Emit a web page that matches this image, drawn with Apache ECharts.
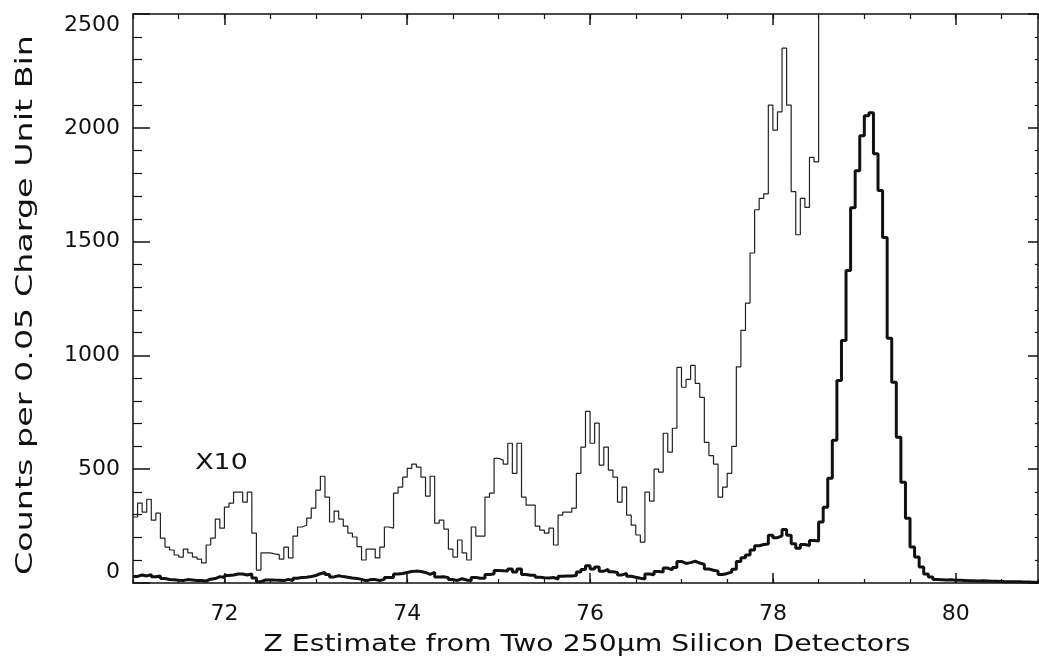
<!DOCTYPE html>
<html>
<head>
<meta charset="utf-8">
<script src="https://cdn.jsdelivr.net/npm/echarts@6/dist/echarts.min.js"></script>
<style>
  html, body { margin: 0; padding: 0; background: #fff; }
  #chart { width: 1039px; height: 662px; }
</style>
</head>
<body>
<div id="chart"></div>
<script>
// histogram bins of 0.05 charge unit, starting at Z = 71
const binStart = 71;
const binWidth = 0.05;

// counts per bin
const counts = [
  29.0, 35.1, 31.1, 36.8, 27.6, 30.7, 19.7, 15.8, 14.5, 12.3,
  11.4, 14.9, 13.2, 11.4, 10.5, 8.8, 16.7, 19.7, 28.1, 24.1,
  33.3, 35.1, 39.9, 39.9, 35.5, 39.9, 21.9, 5.7, 13.2, 13.2,
  12.8, 12.5, 10.5, 15.8, 11.0, 20.6, 24.6, 25.4, 28.5, 32.9,
  40.8, 46.9, 37.7, 26.8, 31.6, 28.1, 25.0, 21.9, 20.2, 16.0,
  10.1, 14.9, 14.9, 11.0, 15.8, 24.6, 24.1, 39.5, 42.1, 46.5,
  50.4, 52.2, 50.9, 46.5, 38.2, 46.9, 26.3, 27.6, 23.7, 14.9,
  11.4, 18.9, 13.2, 10.1, 24.6, 20.6, 20.6, 37.7, 39.5, 54.8,
  54.0, 52.2, 61.4, 48.2, 61.4, 37.7, 34.2, 34.2, 25.0, 23.2,
  21.9, 24.1, 16.7, 29.8, 31.1, 31.1, 32.9, 48.2, 59.7, 75.4,
  61.4, 70.2, 51.8, 59.7, 49.6, 46.5, 35.5, 42.1, 29.8, 25.4,
  21.1, 18.0, 39.9, 36.0, 50.0, 48.7, 65.8, 57.5, 68.0, 94.7,
  86.0, 89.5, 95.6, 87.7, 81.6, 61.8, 56.0, 52.2, 37.7, 42.1,
  48.2, 60.0, 95.0, 111.0, 123.0, 145.0, 164.0, 169.0, 171.0, 210.0,
  199.0, 207.0, 235.0, 210.0, 172.0, 153.0, 169.0, 165.0, 187.0, 185.0,
  268, 333, 460, 627, 890, 1066, 1373, 1649, 1811, 1965,
  2053, 2066, 1886, 1724, 1518, 1075, 882, 640, 443, 285,
  158, 114, 70, 40, 26, 15, 14, 13, 14, 12,
  12, 11, 10, 10, 9, 10, 9, 8, 8, 7,
  6, 6, 5, 5, 4, 4, 3, 3, 3, 2
];

// the magnified (X10) trace is drawn up to this bin
const x10Factor = 10;
const x10LastBin = 150;

const xMin = 71, xMax = 80.9;
const xLabelTicks = [72, 74, 76, 78, 80];
const yMin = 0, yMax = 2500, yStep = 500;

const xTitle = 'Z Estimate from Two 250\u03bcm Silicon Detectors';
const yTitle = 'Counts per 0.05 Charge Unit Bin';

const edges = counts.map((c, i) => +(binStart + i * binWidth).toFixed(2));
const thickData = counts.map((c, i) => [edges[i], c]);
thickData.push([+(binStart + counts.length * binWidth).toFixed(2), counts[counts.length - 1]]);
const thinData = counts.slice(0, x10LastBin + 1).map((c, i) => [edges[i], c * x10Factor]);

const font = 'DejaVu Sans';
const ink = '#111';

const chart = echarts.init(document.getElementById('chart'));

const baseX = {
  type: 'value', min: xMin, max: xMax,
  splitLine: { show: false },
  axisLine: { show: false },
  axisTick: { show: false },
  axisLabel: { show: false }
};

const option = {
  animation: false,
  backgroundColor: '#fff',
  grid: { left: 133, right: 1, top: 14, bottom: 79, containLabel: false },
  xAxis: [
    Object.assign({}, baseX, {
      position: 'bottom', interval: 0.5,
      axisLine: { show: true, lineStyle: { color: ink, width: 1.5 } },
      axisTick: { show: true, inside: true, length: 4, lineStyle: { color: ink, width: 1.2 } }
    }),
    Object.assign({}, baseX, {
      position: 'bottom',
      axisTick: { show: true, inside: true, length: 10, customValues: xLabelTicks, lineStyle: { color: ink, width: 1.5 } },
      axisLabel: { show: true, customValues: xLabelTicks, margin: 20, color: ink, fontFamily: font, fontSize: 22 }
    }),
    Object.assign({}, baseX, {
      position: 'top', interval: 0.5,
      axisLine: { show: true, lineStyle: { color: ink, width: 1.5 } },
      axisTick: { show: true, inside: true, length: 5, lineStyle: { color: ink, width: 1.2 } }
    }),
    Object.assign({}, baseX, {
      position: 'top',
      axisTick: { show: true, inside: true, length: 11, customValues: xLabelTicks, lineStyle: { color: ink, width: 1.5 } }
    })
  ],
  yAxis: [
    {
      type: 'value', position: 'left', min: yMin, max: yMax, interval: yStep,
      splitLine: { show: false },
      axisLine: { show: true, lineStyle: { color: ink, width: 1.5 } },
      axisTick: { show: true, inside: true, length: 17, lineStyle: { color: ink, width: 1.5 } },
      minorTick: { show: true, splitNumber: 5, length: 9, lineStyle: { color: ink, width: 1.2 } },
      axisLabel: {
        color: ink, fontFamily: font, fontSize: 22, margin: 13,
        formatter: v => String(v),
        verticalAlignMinLabel: 'bottom', verticalAlignMaxLabel: 'top'
      }
    },
    {
      type: 'value', position: 'right', min: yMin, max: yMax, interval: yStep,
      splitLine: { show: false },
      axisLine: { show: true, lineStyle: { color: ink, width: 1.5 } },
      axisTick: { show: true, inside: true, length: 10, lineStyle: { color: ink, width: 1.5 } },
      minorTick: { show: true, splitNumber: 5, length: 3, lineStyle: { color: ink, width: 1.2 } },
      axisLabel: { show: false }
    }
  ],
  series: [
    {
      name: 'x10', type: 'line', step: 'end', symbol: 'none', clip: true,
      xAxisIndex: 0, yAxisIndex: 0,
      lineStyle: { color: '#222', width: 1.2 },
      data: thinData
    },
    {
      name: 'counts', type: 'line', step: 'end', symbol: 'none', clip: true,
      xAxisIndex: 0, yAxisIndex: 0,
      lineStyle: { color: ink, width: 3 },
      data: thickData
    }
  ]
};

chart.setOption(option);

// titles are drawn as text stretched sideways, like the wide lettering of the original
const labelPos = chart.convertToPixel({ xAxisIndex: 0, yAxisIndex: 0 }, [71.68, 526]);
chart.setOption({
  graphic: [
    {
      type: 'text', x: labelPos[0], y: labelPos[1], scaleX: 1.22,
      style: { text: 'X10', fill: ink, font: '22px "DejaVu Sans"', verticalAlign: 'middle' }
    },
    {
      type: 'text', x: 587, y: 645, scaleX: 1.23,
      style: { text: xTitle, fill: ink, font: '23px "DejaVu Sans"', align: 'center', verticalAlign: 'middle' }
    },
    {
      type: 'text', x: 26, y: 305, rotation: Math.PI / 2, scaleX: 1.45,
      style: { text: yTitle, fill: ink, font: '23px "DejaVu Sans"', align: 'center', verticalAlign: 'middle' }
    }
  ]
});
</script>
</body>
</html>
